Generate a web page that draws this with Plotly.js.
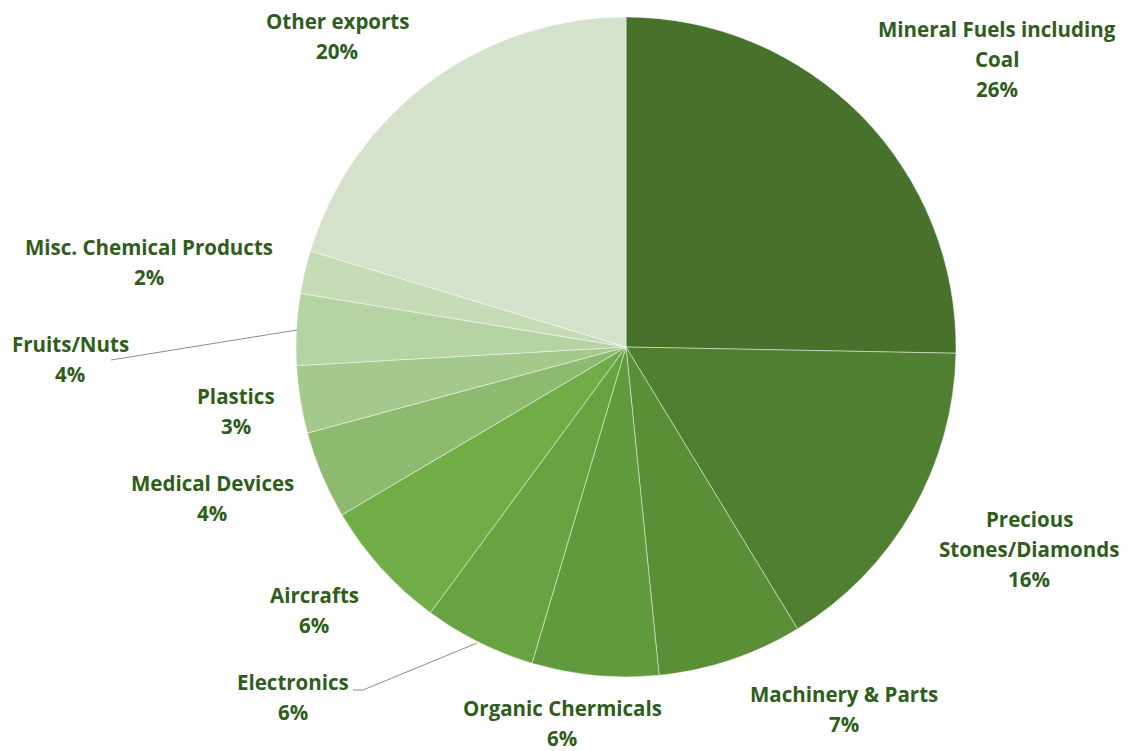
<!DOCTYPE html>
<html>
<head>
<meta charset="utf-8">
<script src="https://cdn.plot.ly/plotly-3.0.1.min.js"></script>
<style>html,body{margin:0;padding:0;background:#fff;}#chart{width:1133px;height:751px;}</style>
</head>
<body>
<div id="chart"></div>
<script>
const categories = ["Mineral Fuels including Coal", "Precious Stones/Diamonds", "Machinery & Parts", "Organic Chermicals", "Electronics", "Aircrafts", "Medical Devices", "Plastics", "Fruits/Nuts", "Misc. Chemical Products", "Other exports"];
const shares = [25.3, 16.0, 7.1, 6.2, 5.5, 6.4, 4.3, 3.3, 3.5, 2.1, 20.3];
// percentages as printed on the labels
const printedPercent = ["26%", "16%", "7%", "6%", "6%", "6%", "4%", "3%", "4%", "2%", "20%"];
const sliceColors = ["#48722c", "#507f32", "#5a8f38", "#609a3c", "#67a441", "#70ad47", "#8dba6e", "#a5c98d", "#b6d3a3", "#c6dcb6", "#d5e2cb"];
const labelLines = [["Mineral Fuels including", "Coal"], ["Precious", "Stones/Diamonds"], ["Machinery & Parts"], ["Organic Chermicals"], ["Electronics"], ["Aircrafts"], ["Medical Devices"], ["Plastics"], ["Fruits/Nuts"], ["Misc. Chemical Products"], ["Other exports"]];

// label layout (pixel positions of first line centre)
const labelPos = [[997, 29], [1029, 519], [844, 694], [562, 708], [293, 682], [314, 595], [212, 483], [236, 396], [70, 344], [149, 247], [337, 21]];
const W = 1133, H = 751, LINE = 30;
const px = x => x / W, py = y => 1 - y / H;

const annotations = [];
categories.forEach((c, i) => {
  const lines = labelLines[i].concat([printedPercent[i]]);
  lines.forEach((t, k) => {
    annotations.push({
      xref: "paper", yref: "paper", x: px(labelPos[i][0]), y: py(labelPos[i][1] + k * LINE),
      xanchor: "center", yanchor: "middle", showarrow: false, text: t,
      font: {family: "'Open Sans', sans-serif", size: 20.5, color: "#2f5d1b", weight: 700}
    });
  });
});

const seg = (a, b) => ({type: "line", xref: "paper", yref: "paper", x0: px(a[0]), y0: py(a[1]), x1: px(b[0]), y1: py(b[1]), line: {color: "#8c8c8c", width: 1}});
const shapes = [
  seg([111, 360], [297, 330]),
  seg([353, 690], [363, 690]), seg([363, 690], [477, 643])
];

const R = 330, cx = 626, cy = 347;
const data = [{
  type: "pie", labels: categories, values: shares, sort: false, direction: "clockwise", rotation: 0,
  textinfo: "none", hoverinfo: "label+percent",
  marker: {colors: sliceColors, line: {color: "rgba(255,255,255,0.45)", width: 1}},
  domain: {x: [px(cx - R), px(cx + R)], y: [py(cy + R), py(cy - R)]},
  showlegend: false
}];

Plotly.newPlot("chart", data, {
  width: W, height: H, margin: {l: 0, r: 0, t: 0, b: 0},
  paper_bgcolor: "#fff", annotations: annotations, shapes: shapes, showlegend: false
}, {displayModeBar: false, staticPlot: true});
</script>
</body>
</html>
